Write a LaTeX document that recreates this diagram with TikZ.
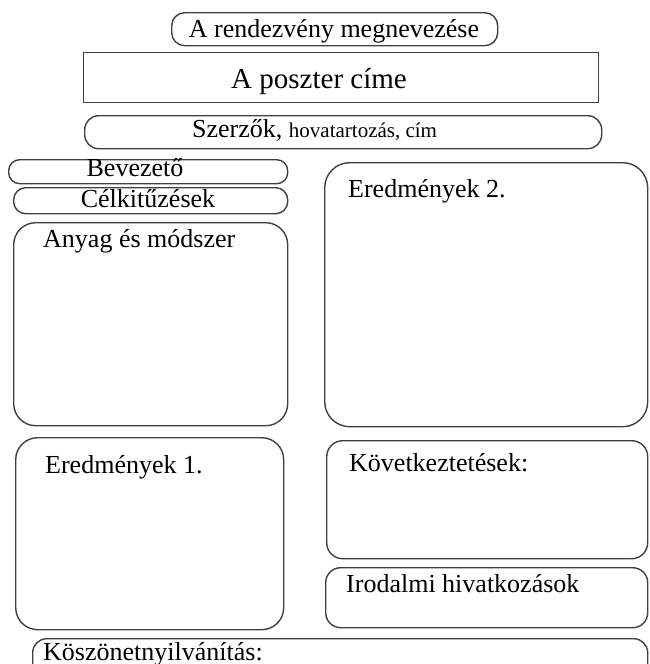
\documentclass[tikz,border=0pt]{standalone}
\usepackage{fontspec}
\setmainfont{Liberation Serif}
\begin{document}
\begin{tikzpicture}[x=1pt,y=-1pt,
  frame/.style={draw=black!75, line width=1.4pt, inner sep=0pt, anchor=north west},
  lbl/.style={inner sep=0pt, text=black, font=\fontsize{26}{30}\selectfont},
  lblc/.style={lbl, anchor=base},
  lblw/.style={lbl, anchor=base west}
]
\useasboundingbox (0,0) rectangle (649,664);
\clip (0,0) rectangle (649,664);
% boxes
\node[frame, rounded corners=13pt, minimum width=326pt, minimum height=33pt] (event) at (171,12) {};
\node[frame, minimum width=515pt, minimum height=50pt] (title) at (83,52) {};
\node[frame, rounded corners=14pt, minimum width=517pt, minimum height=33pt] (authors) at (84,115) {};
\node[frame, rounded corners=11pt, minimum width=279pt, minimum height=24pt] (intro) at (8,159) {};
\node[frame, rounded corners=12pt, minimum width=274pt, minimum height=26pt] (aims) at (13,187) {};
\node[frame, rounded corners=22pt, minimum width=274pt, minimum height=203pt] (methods) at (13,222) {};
\node[frame, rounded corners=25pt, minimum width=323pt, minimum height=264pt] (res2) at (324,162) {};
\node[frame, rounded corners=22pt, minimum width=268pt, minimum height=192pt] (res1) at (15,437) {};
\node[frame, rounded corners=16pt, minimum width=321pt, minimum height=118pt] (concl) at (326,440) {};
\node[frame, rounded corners=15pt, minimum width=322pt, minimum height=60pt] (refs) at (325,567) {};
\node[frame, rounded corners=14pt, minimum width=615pt, minimum height=50pt] (ack) at (32,638) {};
% texts
\node[lblc] (event-t) at (334,37) {A rendezvény megnevezése};
\node[lblc, font=\fontsize{29}{34}\selectfont] (title-t) at (319,88) {A poszter címe};
\node[lblw] (authors-t) at (192,137) {Szerzők, {\fontsize{21}{25}\selectfont hovatartozás, cím}};
\node[lblc] (intro-t) at (135,176) {Bevezető};
\node[lblc] (aims-t) at (148,207) {Célkitűzések};
\node[lblw] (methods-t) at (43,247) {Anyag és módszer};
\node[lblw] (res2-t) at (348,197) {Eredmények 2.};
\node[lblw] (res1-t) at (45,473) {Eredmények 1.};
\node[lblw] (concl-t) at (349,471) {Következtetések:};
\node[lblw] (refs-t) at (346,592) {Irodalmi hivatkozások};
\node[lblw] (ack-t) at (43,660) {Köszönetnyilvánítás:};
\end{tikzpicture}
\end{document}
